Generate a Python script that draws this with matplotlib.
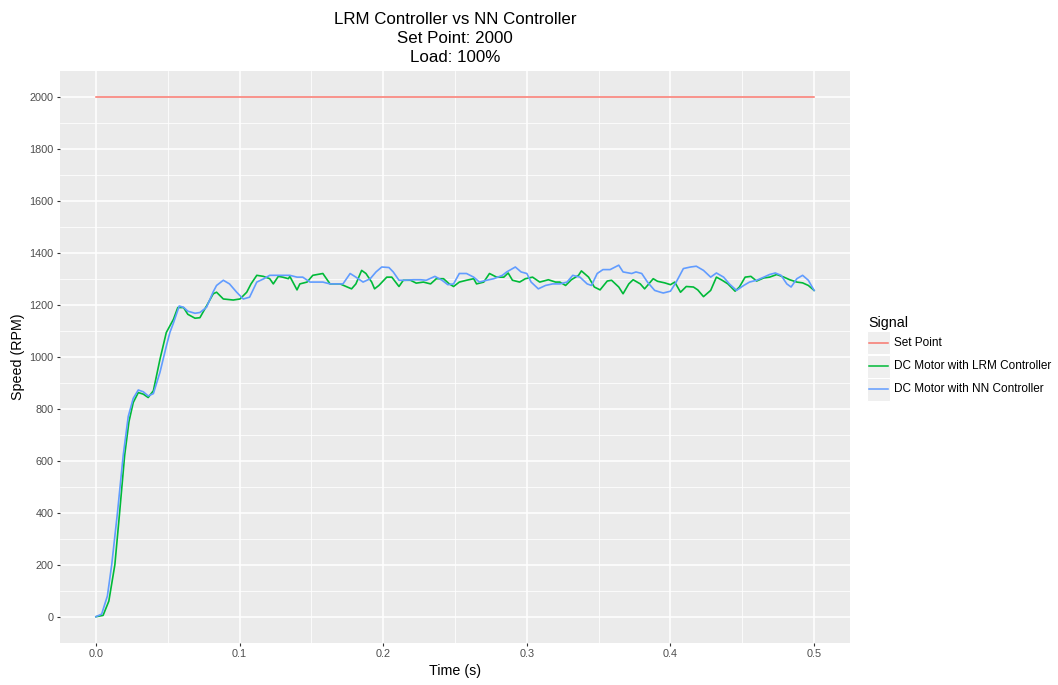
import matplotlib
matplotlib.use("Agg")
import matplotlib.pyplot as plt
from matplotlib.patches import Rectangle
from matplotlib.lines import Line2D

plt.rcParams['font.family'] = ['Liberation Sans', 'DejaVu Sans']

# data
signals = ['Set Point', 'DC Motor with LRM Controller', 'DC Motor with NN Controller']
colors = ['#F8766D', '#00BA38', '#619CFF']

t_sp = [0.0, 0.5]
speed_sp = [2000, 2000]

t_lrm = [0.000, 0.005, 0.009, 0.0132, 0.0165, 0.020, 0.023, 0.026, 0.0295, 0.033,
         0.0364, 0.040, 0.0446, 0.049, 0.054, 0.057, 0.061, 0.064, 0.069, 0.0724,
         0.0771, 0.0817, 0.084, 0.0887, 0.0956, 0.1003, 0.105, 0.108, 0.112, 0.1166,
         0.121, 0.1235, 0.127, 0.130, 0.134, 0.135, 0.140, 0.142, 0.147, 0.151,
         0.158, 0.163, 0.170, 0.175, 0.178, 0.181, 0.185, 0.188, 0.192, 0.194,
         0.197, 0.2025, 0.206, 0.211, 0.214, 0.219, 0.223, 0.228, 0.233, 0.237,
         0.242, 0.246, 0.249, 0.253, 0.258, 0.263, 0.265, 0.270, 0.274, 0.279,
         0.284, 0.287, 0.290, 0.295, 0.299, 0.304, 0.309, 0.315, 0.320, 0.323,
         0.327, 0.331, 0.336, 0.338, 0.343, 0.347, 0.351, 0.356, 0.359, 0.364,
         0.367, 0.371, 0.374, 0.379, 0.382, 0.388, 0.391, 0.396, 0.400, 0.403,
         0.407, 0.411, 0.416, 0.419, 0.423, 0.428, 0.432, 0.436, 0.440, 0.445,
         0.448, 0.452, 0.456, 0.460, 0.465, 0.469, 0.474, 0.479, 0.483, 0.488,
         0.492, 0.496, 0.500]
speed_lrm = [0, 5, 60, 200, 400, 620, 750, 824, 862, 856,
             843, 869, 990, 1093, 1144, 1189, 1189, 1163, 1148, 1150,
             1196, 1242, 1248, 1222, 1218, 1222, 1248, 1280, 1313, 1309,
             1300, 1280, 1309, 1306, 1300, 1309, 1257, 1280, 1287, 1313,
             1320, 1280, 1280, 1268, 1261, 1280, 1332, 1320, 1287, 1261,
             1274, 1306, 1306, 1270, 1294, 1294, 1283, 1287, 1280, 1300,
             1300, 1280, 1270, 1287, 1294, 1300, 1280, 1287, 1320, 1306,
             1306, 1322, 1294, 1287, 1300, 1306, 1287, 1296, 1287, 1287,
             1274, 1296, 1313, 1330, 1306, 1268, 1257, 1291, 1294, 1268,
             1242, 1280, 1296, 1280, 1261, 1300, 1290, 1284, 1277, 1287,
             1248, 1270, 1268, 1257, 1231, 1255, 1306, 1294, 1280, 1252,
             1268, 1306, 1309, 1291, 1303, 1306, 1316, 1306, 1296, 1287,
             1284, 1274, 1255]

t_nn = [0.000, 0.004, 0.008, 0.011, 0.015, 0.019, 0.0225, 0.026, 0.0295, 0.033,
        0.0364, 0.040, 0.0446, 0.049, 0.0515, 0.054, 0.058, 0.061, 0.064, 0.069,
        0.0724, 0.077, 0.0817, 0.084, 0.0887, 0.093, 0.098, 0.1026, 0.107, 0.112,
        0.117, 0.121, 0.126, 0.130, 0.135, 0.140, 0.144, 0.149, 0.154, 0.158,
        0.163, 0.172, 0.177, 0.181, 0.186, 0.191, 0.195, 0.199, 0.204, 0.207,
        0.211, 0.215, 0.221, 0.226, 0.230, 0.236, 0.241, 0.245, 0.249, 0.253,
        0.258, 0.263, 0.267, 0.272, 0.277, 0.283, 0.286, 0.292, 0.296, 0.300,
        0.303, 0.308, 0.313, 0.318, 0.323, 0.328, 0.332, 0.337, 0.342, 0.345,
        0.349, 0.353, 0.358, 0.364, 0.367, 0.373, 0.376, 0.380, 0.384, 0.389,
        0.393, 0.395, 0.400, 0.404, 0.409, 0.414, 0.418, 0.423, 0.428, 0.432,
        0.437, 0.441, 0.446, 0.451, 0.455, 0.460, 0.465, 0.469, 0.473, 0.477,
        0.481, 0.484, 0.488, 0.492, 0.496, 0.500]
speed_nn = [0, 10, 80, 200, 400, 620, 770, 840, 872, 865,
            849, 858, 940, 1040, 1093, 1130, 1195, 1190, 1175, 1167,
            1170, 1190, 1250, 1274, 1294, 1280, 1248, 1222, 1229, 1287,
            1300, 1313, 1313, 1313, 1313, 1306, 1306, 1287, 1287, 1287,
            1280, 1280, 1320, 1306, 1287, 1300, 1326, 1345, 1343, 1326,
            1294, 1294, 1296, 1296, 1294, 1309, 1294, 1277, 1280, 1320,
            1320, 1306, 1287, 1294, 1300, 1313, 1326, 1345, 1326, 1320,
            1287, 1261, 1274, 1280, 1280, 1287, 1313, 1306, 1280, 1274,
            1320, 1335, 1335, 1352, 1326, 1320, 1326, 1320, 1287, 1255,
            1248, 1245, 1252, 1287, 1339, 1345, 1348, 1332, 1306, 1322,
            1306, 1280, 1255, 1274, 1287, 1294, 1306, 1316, 1322, 1313,
            1280, 1268, 1300, 1313, 1294, 1255]

W, H = 1058, 685
fig = plt.figure(figsize=(W / 100, H / 100), dpi=100)
ax = fig.add_axes([60 / W, 1 - 642.7 / H, 790 / W, 572 / H])

ax.set_facecolor('#EBEBEB')
for s in ax.spines.values():
    s.set_visible(False)

ax.set_xlim(-0.025, 0.525)
ax.set_ylim(-100, 2100)
ax.set_xticks([0.0, 0.1, 0.2, 0.3, 0.4, 0.5])
ax.set_xticklabels(['0.0', '0.1', '0.2', '0.3', '0.4', '0.5'])
ax.set_yticks(range(0, 2001, 200))
ax.set_xticks([0.05, 0.15, 0.25, 0.35, 0.45], minor=True)
ax.set_yticks(range(100, 2000, 200), minor=True)
ax.grid(which='major', color='white', linewidth=1.1)
ax.grid(which='minor', color='white', linewidth=0.55)
ax.set_axisbelow(True)
ax.tick_params(which='major', length=2.5, width=0.8, color='#333333',
               labelcolor='#4D4D4D', labelsize=7.8, pad=2.2)
ax.tick_params(which='minor', length=0)

ax.plot(t_sp, speed_sp, color=colors[0], linewidth=1.1)
ax.plot(t_lrm, speed_lrm, color=colors[1], linewidth=1.2)
ax.plot(t_nn, speed_nn, color=colors[2], linewidth=1.2)

ax.set_xlabel('Time (s)', fontsize=10.3)
ax.set_ylabel('Speed (RPM)', fontsize=10.3)
ax.xaxis.set_label_coords(0.5, -(671.5 - 642.7) / 572)
ax.yaxis.set_label_coords((18 - 60) / 790, 0.5)
ax.xaxis.label.set_va('center')
ax.yaxis.label.set_va('center')

# title, three centred lines over the panel
title_lines = ['LRM Controller vs NN Controller', 'Set Point: 2000', 'Load: 100%']
for line, base in zip(title_lines, [23.5, 42.8, 62.0]):
    fig.text(455 / W, 1 - base / H, line, ha='center', va='baseline', fontsize=12.2)

# legend, ggplot style with grey key boxes
fig.text(868 / W, 1 - 326.5 / H, 'Signal', ha='left', va='baseline', fontsize=10.3)
for i, (lab, col) in enumerate(zip(signals, colors)):
    yc = 343 + i * 23
    fig.add_artist(Rectangle((866.5 / W, 1 - (yc + 11.5) / H), 23 / W, 23 / H,
                             transform=fig.transFigure, facecolor='#EFEFEF',
                             edgecolor='white', linewidth=0.8))
    fig.add_artist(Line2D([869 / W, 887.5 / W], [1 - yc / H, 1 - yc / H],
                          transform=fig.transFigure, color=col, linewidth=1.1))
    fig.text(893.5 / W, 1 - yc / H, lab, ha='left', va='center', fontsize=8.5)

fig.savefig('out.png', dpi=100)
